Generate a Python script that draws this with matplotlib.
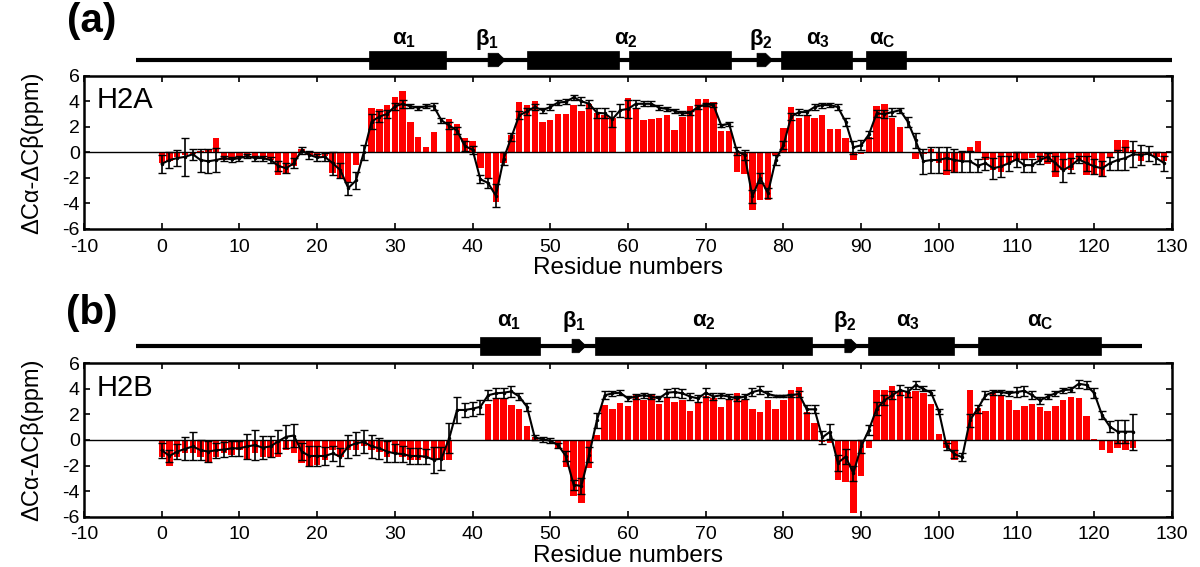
import numpy as np
import matplotlib
matplotlib.use("Agg")
import matplotlib.pyplot as plt
from matplotlib.patches import Rectangle, Polygon

plt.rcParams['font.family'] = ['Liberation Sans', 'DejaVu Sans']
plt.rcParams['mathtext.fontset'] = 'custom'
plt.rcParams['mathtext.rm'] = 'Liberation Sans'
plt.rcParams['mathtext.bf'] = 'Liberation Sans:bold'
plt.rcParams['axes.unicode_minus'] = False

# ---------------- data ----------------
a_res = list(range(0, 130))
a_bar = [-0.85, -0.7, -0.35, -0.2, -0.1, 0.1, 0.15, 1.1, -0.6, -0.55,
         -0.45, -0.35, -0.45, -0.55, -0.6, -1.75, -1.7, -1.1, 0.3, -0.2,
         -0.35, -0.3, -1.6, -2.1, -2.3, -1.0, 0.0, 3.5, 3.4, 3.7,
         4.3, 4.8, 2.4, 1.2, 0.4, 1.6, 0.0, 2.6, 2.2, 1.1,
         0.9, -1.25, -2.0, -3.9, -0.85, 1.35, 3.95, 3.7, 4.0, 2.4,
         2.55, 3.0, 3.0, 3.7, 3.2, 3.8, 3.05, 2.9, 2.65, 0.0,
         4.25, 3.5, 2.5, 2.6, 2.7, 2.9, 1.75, 2.8, 3.65, 4.2,
         4.2, 3.95, 1.7, 1.7, -1.5, -1.7, -4.5, -3.7, -3.7, -0.2,
         1.9, 3.55, 2.65, 2.9, 2.7, 2.9, 1.8, 1.85, 1.15, -0.6,
         -0.15, 1.2, 3.65, 3.75, 2.7, 2.0, 0.05, -0.55, -0.1, 0.3,
         -0.85, -1.75, -1.5, -0.6, 0.4, 0.9, -0.6, -1.4, -1.5, -0.85,
         -0.6, -0.6, -0.45, -0.6, -0.95, -1.9, -1.4, -1.4, -0.6, -1.75,
         -1.75, -1.9, -0.35, 0.95, 0.95, 0.2, -0.7, -0.2, -0.35, -0.7]
a_mean = [-0.9, -0.6, -0.45, -0.35, -0.15, -0.6, -0.7, -0.6, -0.45, -0.55,
          -0.45, -0.3, -0.45, -0.45, -0.6, -1.05, -1.25, -0.85, 0.15, -0.2,
          -0.4, -0.35, -0.85, -1.4, -2.8, -2.2, 0.0, 2.4, 2.8, 3.0,
          3.6, 3.8, 3.6, 3.5, 3.6, 3.6, 2.5, 2.1, 1.7, 0.5,
          0.2, -2.1, -2.4, -3.4, -0.5, 1.2, 2.9, 3.2, 3.55, 3.3,
          3.55, 3.9, 3.95, 4.3, 4.0, 3.8, 3.1, 3.05, 2.6, 3.3,
          3.4, 3.8, 3.8, 3.8, 3.5, 3.4, 3.25, 3.05, 3.1, 3.55,
          3.75, 3.7, 2.1, 2.25, 0.1, -0.2, -3.45, -2.0, -3.2, -0.6,
          0.55, 2.8, 3.15, 3.15, 3.55, 3.7, 3.7, 3.55, 2.4, 0.4,
          0.55, 1.4, 3.05, 3.0, 3.15, 3.3, 2.4, 0.95, -0.7, -0.6,
          -0.6, -0.45, -0.6, -0.7, -0.7, -1.05, -0.85, -1.25, -1.1, -0.85,
          -0.55, -1.0, -1.0, -0.6, -0.35, -0.85, -1.4, -1.05, -0.55, -0.85,
          -1.1, -1.25, -0.85, -0.6, -0.45, -0.15, -0.2, -0.1, -0.45, -0.85]
a_err = [0.7, 0.6, 0.6, 1.5, 0.45, 0.9, 0.95, 0.95, 0.2, 0.2,
         0.2, 0.15, 0.2, 0.2, 0.2, 0.4, 0.4, 0.4, 0.3, 0.3,
         0.3, 0.3, 0.9, 0.6, 0.5, 0.7, 0.6, 0.6, 0.4, 0.3,
         0.3, 0.3, 0.15, 0.15, 0.15, 0.3, 0.2, 0.3, 0.3, 0.4,
         0.3, 0.3, 0.4, 0.9, 0.5, 0.3, 0.3, 0.3, 0.2, 0.2,
         0.2, 0.2, 0.2, 0.2, 0.3, 0.3, 0.4, 0.4, 0.6, 0.5,
         0.7, 0.3, 0.2, 0.2, 0.2, 0.15, 0.15, 0.15, 0.15, 0.15,
         0.15, 0.15, 0.15, 0.15, 0.3, 0.4, 0.5, 0.4, 0.4, 0.4,
         0.3, 0.3, 0.25, 0.2, 0.2, 0.2, 0.15, 0.2, 0.3, 0.5,
         0.4, 0.3, 0.3, 0.3, 0.3, 0.2, 0.4, 0.6, 1.0, 1.0,
         1.0, 0.9, 0.9, 0.8, 0.8, 0.5, 0.5, 0.8, 0.8, 0.6,
         0.6, 0.5, 0.5, 0.3, 0.3, 0.6, 0.9, 0.6, 0.3, 0.6,
         0.6, 0.6, 0.5, 0.8, 0.9, 1.0, 0.8, 0.6, 0.5, 0.6]

b_res = list(range(0, 126))
b_bar = [-1.3, -2.05, -1.3, -1.05, -1.0, -1.3, -1.7, -1.3, -1.05, -1.15,
         -0.8, -1.55, -1.05, -1.3, -1.3, -1.3, -0.8, -1.05, -1.8, -2.1,
         -1.95, -1.55, -0.8, -1.3, -0.8, -0.8, -0.5, -0.8, -0.9, -1.3,
         -1.05, -1.3, -1.55, -1.55, -1.4, -1.55, -1.55, -1.55, 0.0, 0.0,
         0.0, 0.0, 2.85, 3.3, 3.25, 2.7, 2.4, 1.1, 0.25, 0.0,
         -0.05, -0.65, -2.1, -4.4, -4.95, -2.2, 0.4, 2.7, 2.45, 2.9,
         2.65, 3.6, 3.1, 3.5, 2.85, 3.3, 2.95, 3.1, 2.3, 3.0,
         3.45, 3.25, 2.6, 3.1, 3.65, 3.1, 2.4, 2.2, 3.15, 2.45,
         3.1, 3.9, 4.15, 2.2, 1.35, -0.15, -0.25, -3.1, -3.25, -5.7,
         -2.8, -0.65, 3.95, 3.95, 4.2, 3.85, 3.75, 3.85, 3.65, 2.85,
         0.5, -0.65, -1.55, 0.0, 3.9, 2.5, 2.3, 3.75, 3.5, 3.1,
         2.35, 2.65, 2.8, 2.6, 2.3, 2.65, 3.15, 3.4, 3.25, 1.9,
         0.05, -0.8, -1.05, -0.65, -0.8, -0.6]
b_mean = [-0.8, -1.25, -0.9, -0.7, -0.5, -0.8, -0.9, -0.8, -0.75, -0.65,
          -0.65, -0.5, -0.4, -0.6, -0.5, -0.1, 0.25, 0.35, -0.9, -1.25,
          -1.25, -1.25, -1.05, -1.3, -0.5, -0.25, -0.15, -0.5, -0.65, -0.9,
          -1.05, -1.1, -1.25, -1.25, -1.3, -1.55, -1.45, 0.15, 2.35, 2.35,
          2.45, 2.6, 3.5, 3.65, 3.7, 3.8, 3.4, 2.6, 0.2, 0.05,
          -0.05, -0.4, -1.25, -3.5, -3.6, -1.15, 1.55, 3.5, 3.65, 3.7,
          3.25, 3.4, 3.5, 3.4, 3.25, 3.7, 3.75, 3.65, 3.4, 3.25,
          3.7, 3.4, 3.5, 3.4, 3.25, 3.4, 3.75, 3.9, 3.6, 3.45,
          3.45, 3.5, 3.6, 2.4, 2.4, 0.2, 0.65, -1.8, -1.3, -2.6,
          -0.5, 0.8, 2.45, 3.1, 3.5, 3.9, 3.75, 4.3, 4.0, 3.7,
          2.25, -0.5, -1.1, -1.35, 1.55, 2.45, 3.5, 3.75, 3.75, 3.65,
          3.75, 3.85, 3.5, 3.1, 3.4, 3.65, 3.9, 3.95, 4.4, 4.3,
          3.65, 1.95, 1.05, 0.65, 0.65, 0.65]
b_err = [0.6, 0.5, 0.6, 0.9, 1.1, 0.8, 0.8, 0.6, 0.6, 0.6,
         0.6, 1.0, 1.2, 0.9, 0.8, 0.9, 0.9, 0.9, 0.7, 0.8,
         0.8, 0.7, 0.6, 0.7, 0.9, 0.9, 0.9, 0.9, 0.8, 0.8,
         0.7, 0.6, 0.6, 0.6, 0.6, 1.0, 0.9, 1.2, 1.0, 0.55,
         0.55, 0.55, 0.4, 0.4, 0.4, 0.45, 0.3, 0.3, 0.2, 0.2,
         0.2, 0.2, 0.4, 0.4, 0.6, 0.6, 0.6, 0.3, 0.2, 0.2,
         0.2, 0.2, 0.2, 0.2, 0.2, 0.3, 0.35, 0.35, 0.3, 0.3,
         0.35, 0.3, 0.2, 0.2, 0.2, 0.2, 0.3, 0.3, 0.2, 0.1,
         0.1, 0.1, 0.2, 0.3, 0.3, 0.5, 0.6, 0.6, 0.6, 0.6,
         0.5, 0.4, 0.5, 0.4, 0.3, 0.4, 0.4, 0.3, 0.2, 0.2,
         0.2, 0.3, 0.3, 0.3, 0.5, 0.3, 0.3, 0.2, 0.2, 0.2,
         0.4, 0.4, 0.3, 0.3, 0.2, 0.2, 0.2, 0.2, 0.3, 0.3,
         0.4, 0.3, 0.4, 0.9, 0.9, 1.4]

# secondary structure: (start, end) spans, kinds and labels
a_line_span = (-3.3, 130)
a_struct_start = [26.7, 42.0, 47.0, 60.1, 76.6, 79.7, 90.6]
a_struct_end = [36.6, 44.2, 58.9, 73.2, 78.6, 88.8, 95.8]
a_struct_kind = ['h', 'b', 'h', 'h', 'b', 'h', 'h']
a_label_text = [r'$\mathbf{\alpha_1}$', r'$\mathbf{\beta_1}$', r'$\mathbf{\alpha_2}$',
                r'$\mathbf{\beta_2}$', r'$\mathbf{\alpha_3}$', r'$\mathbf{\alpha_C}$']
a_label_x = [31.2, 41.8, 59.7, 77.1, 84.4, 92.7]

b_line_span = (-3.3, 126.2)
b_struct_start = [40.9, 52.8, 55.7, 87.9, 90.9, 105.0]
b_struct_end = [48.7, 54.6, 83.7, 89.6, 102.0, 120.9]
b_struct_kind = ['h', 'b', 'h', 'b', 'h', 'h']
b_label_text = [r'$\mathbf{\alpha_1}$', r'$\mathbf{\beta_1}$', r'$\mathbf{\alpha_2}$',
                r'$\mathbf{\beta_2}$', r'$\mathbf{\alpha_3}$', r'$\mathbf{\alpha_C}$']
b_label_x = [44.7, 53.0, 69.8, 87.9, 96.0, 113.0]

xticks = list(range(-10, 131, 10))
yticks = [-6, -4, -2, 0, 2, 4, 6]

# ---------------- figure ----------------
W, H = 1200, 567
fig = plt.figure(figsize=(W / 100, H / 100), dpi=100)


def fr(x0, y0, x1, y1):
    # pixel box -> figure fraction
    return [x0 / W, 1 - y1 / H, (x1 - x0) / W, (y1 - y0) / H]


def main_panel(rect, res, bar, mean, err, name):
    ax = fig.add_axes(rect)
    ax.bar(res, bar, width=0.82, color='#ff0000', zorder=2)
    ax.axhline(0, color='black', lw=1.0, zorder=3)
    ax.errorbar(res, mean, yerr=err, color='black', lw=1.5, elinewidth=1.2,
                capsize=3.0, capthick=1.0, marker='.', markersize=3, zorder=4)
    ax.set_xlim(-10, 130)
    ax.set_ylim(-6, 6)
    ax.set_xticks(xticks)
    ax.set_yticks(yticks)
    ax.tick_params(direction='in', top=True, right=True, labeltop=False,
                   labelright=False, length=4, width=1.2, labelsize=14)
    ax.tick_params(axis='x', pad=7)
    ax.tick_params(axis='y', pad=3)
    for s in ax.spines.values():
        s.set_linewidth(1.8)
    ax.set_xlabel('Residue numbers', fontsize=17.5, labelpad=1)
    ax.set_ylabel('ΔCα-ΔCβ(ppm)', fontsize=17, labelpad=14)
    ax.text(0.012, 0.84, name, transform=ax.transAxes, fontsize=21,
            va='center', ha='left')
    return ax


def struct_panel(rect, span, starts, ends, kinds, labels, lx, line_y, half, lab_y):
    sx = fig.add_axes(rect)
    sx.set_xlim(-10, 130)
    sx.set_ylim(0, 1)
    sx.axis('off')
    sx.plot(list(span), [line_y, line_y], color='black', lw=3, solid_capstyle='butt')
    for s, e, k in zip(starts, ends, kinds):
        if k == 'h':
            sx.add_patch(Rectangle((s, line_y - half), e - s, 2 * half,
                                   facecolor='black', edgecolor='black', lw=0.5))
        else:
            hl = 0.9
            h = half * 0.75
            sx.add_patch(Polygon([(s, line_y - h), (e - hl, line_y - h), (e, line_y),
                                  (e - hl, line_y + h), (s, line_y + h)],
                                 closed=True, facecolor='black', edgecolor='black', lw=0.5))
    for t, x in zip(labels, lx):
        sx.text(x, lab_y, t, fontsize=16, ha='center', va='center')
    return sx


axa = main_panel(fr(84, 75.7, 1172, 229), a_res, a_bar, a_mean, a_err, 'H2A')
axb = main_panel(fr(84, 363.3, 1172, 516.7), b_res, b_bar, b_mean, b_err, 'H2B')

# structure axes a: pixel rows 20..75
struct_panel(fr(84, 20, 1172, 75), a_line_span, a_struct_start, a_struct_end,
             a_struct_kind, a_label_text, a_label_x,
             line_y=(75 - 60) / 55, half=9 / 55, lab_y=(75 - 40) / 55)
# structure axes b: pixel rows 300..363
struct_panel(fr(84, 300, 1172, 363), b_line_span, b_struct_start, b_struct_end,
             b_struct_kind, b_label_text, b_label_x,
             line_y=(363 - 346) / 63, half=9 / 63, lab_y=(363 - 322) / 63)

fig.text(92 / W, 1 - 21 / H, '(a)', fontsize=29, fontweight='bold', ha='center', va='center')
fig.text(92 / W, 1 - 313 / H, '(b)', fontsize=29, fontweight='bold', ha='center', va='center')

fig.savefig('out.png', dpi=100)
